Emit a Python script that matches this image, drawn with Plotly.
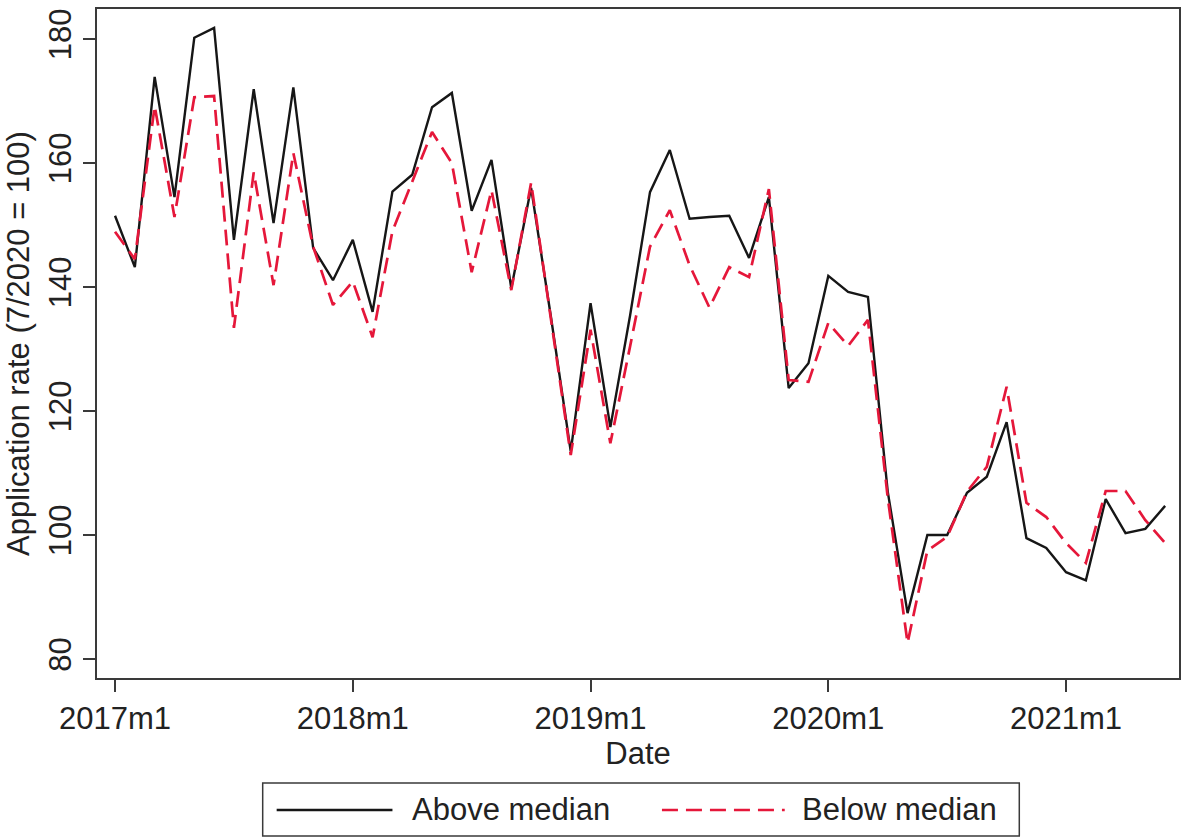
import plotly.graph_objects as go

# Monthly application rates, indexed to July 2020 = 100 (2017m1 .. 2021m6)
months = list(range(54))
above_median = [
    151.5, 143.2, 173.9, 154.5, 180.2, 181.8, 147.6, 171.9, 150.3, 172.2, 146.3, 141.1,
    147.6, 136.0, 155.4, 158.1, 169.0, 171.3, 152.3, 160.5, 139.8, 156.0, 135.2, 113.5,
    137.4, 117.4, 135.5, 155.3, 162.1, 151.0, 151.3, 151.5, 144.7, 154.5, 123.7, 127.7,
    141.8, 139.2, 138.4, 107.0, 87.4, 100.0, 100.0, 106.8, 109.4, 118.2, 99.5, 97.9,
    94.0, 92.7, 105.8, 100.3, 101.0, 104.7,
]
below_median = [
    148.9, 144.5, 169.2, 151.3, 170.6, 170.8, 133.4, 158.5, 140.3, 161.6, 146.5, 137.1,
    140.9, 131.9, 149.0, 157.0, 165.0, 160.0, 142.4, 155.6, 139.5, 156.8, 135.0, 112.9,
    133.1, 114.8, 130.5, 146.5, 152.4, 143.5, 136.7, 143.2, 141.6, 155.8, 125.0, 124.7,
    134.2, 130.5, 134.7, 106.0, 82.6, 97.5, 99.7, 107.0, 111.0, 123.9, 105.2, 102.9,
    98.7, 95.5, 107.1, 107.1, 102.4, 98.7,
]
x_tick_vals = [0, 12, 24, 36, 48]
x_tick_text = ["2017m1", "2018m1", "2019m1", "2020m1", "2021m1"]
y_tick_vals = [80, 100, 120, 140, 160, 180]
series_names = ["Above median", "Below median"]

W, H = 1182, 839
ML, MR, MT, MB = 97, 1, 9, 161
FONT = "Liberation Sans, Arial, sans-serif"
FS = 31
AXIS_COLOR = "#3a3a3a"
BLACK = "#161616"
RED = "#e5173a"
RED_DASH = "16px,8px"

fig = go.Figure()
fig.add_trace(go.Scatter(x=months, y=above_median, mode="lines", name=series_names[0],
                         line=dict(color=BLACK, width=2.4)))
fig.add_trace(go.Scatter(x=months, y=below_median, mode="lines", name=series_names[1],
                         line=dict(color=RED, width=2.7, dash=RED_DASH)))

# pixel -> paper helpers for the legend box below the plot
pw, ph = W - ML - MR, H - MT - MB
def px_x(p):
    return (p - ML) / pw
def px_y(p):
    return (H - MB - p) / ph

legend_y = 810
shapes = [
    dict(type="rect", xref="paper", yref="paper",
         x0=px_x(263), x1=px_x(1021), y0=px_y(836), y1=px_y(783),
         line=dict(color=AXIS_COLOR, width=1.5), fillcolor="white", layer="above"),
    dict(type="line", xref="paper", yref="paper",
         x0=px_x(277), x1=px_x(393), y0=px_y(legend_y), y1=px_y(legend_y),
         line=dict(color=BLACK, width=2.4)),
    dict(type="line", xref="paper", yref="paper",
         x0=px_x(663), x1=px_x(786), y0=px_y(legend_y), y1=px_y(legend_y),
         line=dict(color=RED, width=2.7, dash=RED_DASH)),
]
annotations = [
    dict(text=series_names[0], xref="paper", yref="paper", x=px_x(411), y=px_y(legend_y),
         xanchor="left", yanchor="middle", showarrow=False,
         font=dict(family=FONT, size=FS, color="#222")),
    dict(text=series_names[1], xref="paper", yref="paper", x=px_x(801), y=px_y(legend_y),
         xanchor="left", yanchor="middle", showarrow=False,
         font=dict(family=FONT, size=FS, color="#222")),
]

fig.update_layout(
    width=W, height=H,
    margin=dict(l=ML, r=MR, t=MT, b=MB),
    paper_bgcolor="white", plot_bgcolor="white",
    showlegend=False,
    font=dict(family=FONT, size=FS, color="#222"),
    shapes=shapes, annotations=annotations,
)
fig.update_xaxes(
    range=[-0.91, 53.7], tickvals=x_tick_vals, ticktext=x_tick_text,
    showgrid=False, zeroline=False,
    showline=True, mirror=True, linecolor=AXIS_COLOR, linewidth=2,
    ticks="outside", ticklen=12, tickwidth=1.5, tickcolor=AXIS_COLOR,
    tickfont=dict(size=FS),
    title=dict(text="Date", standoff=0, font=dict(size=FS)),
)
fig.update_yaxes(
    range=[76.94, 184.84], tickvals=y_tick_vals, tickangle=-90,
    showgrid=False, zeroline=False,
    showline=True, mirror=True, linecolor=AXIS_COLOR, linewidth=2,
    ticks="outside", ticklen=12, tickwidth=1.5, tickcolor=AXIS_COLOR,
    tickfont=dict(size=FS),
    title=dict(text="Application rate (7/2020 = 100)", standoff=4, font=dict(size=FS)),
)

fig.write_html("out.html")
